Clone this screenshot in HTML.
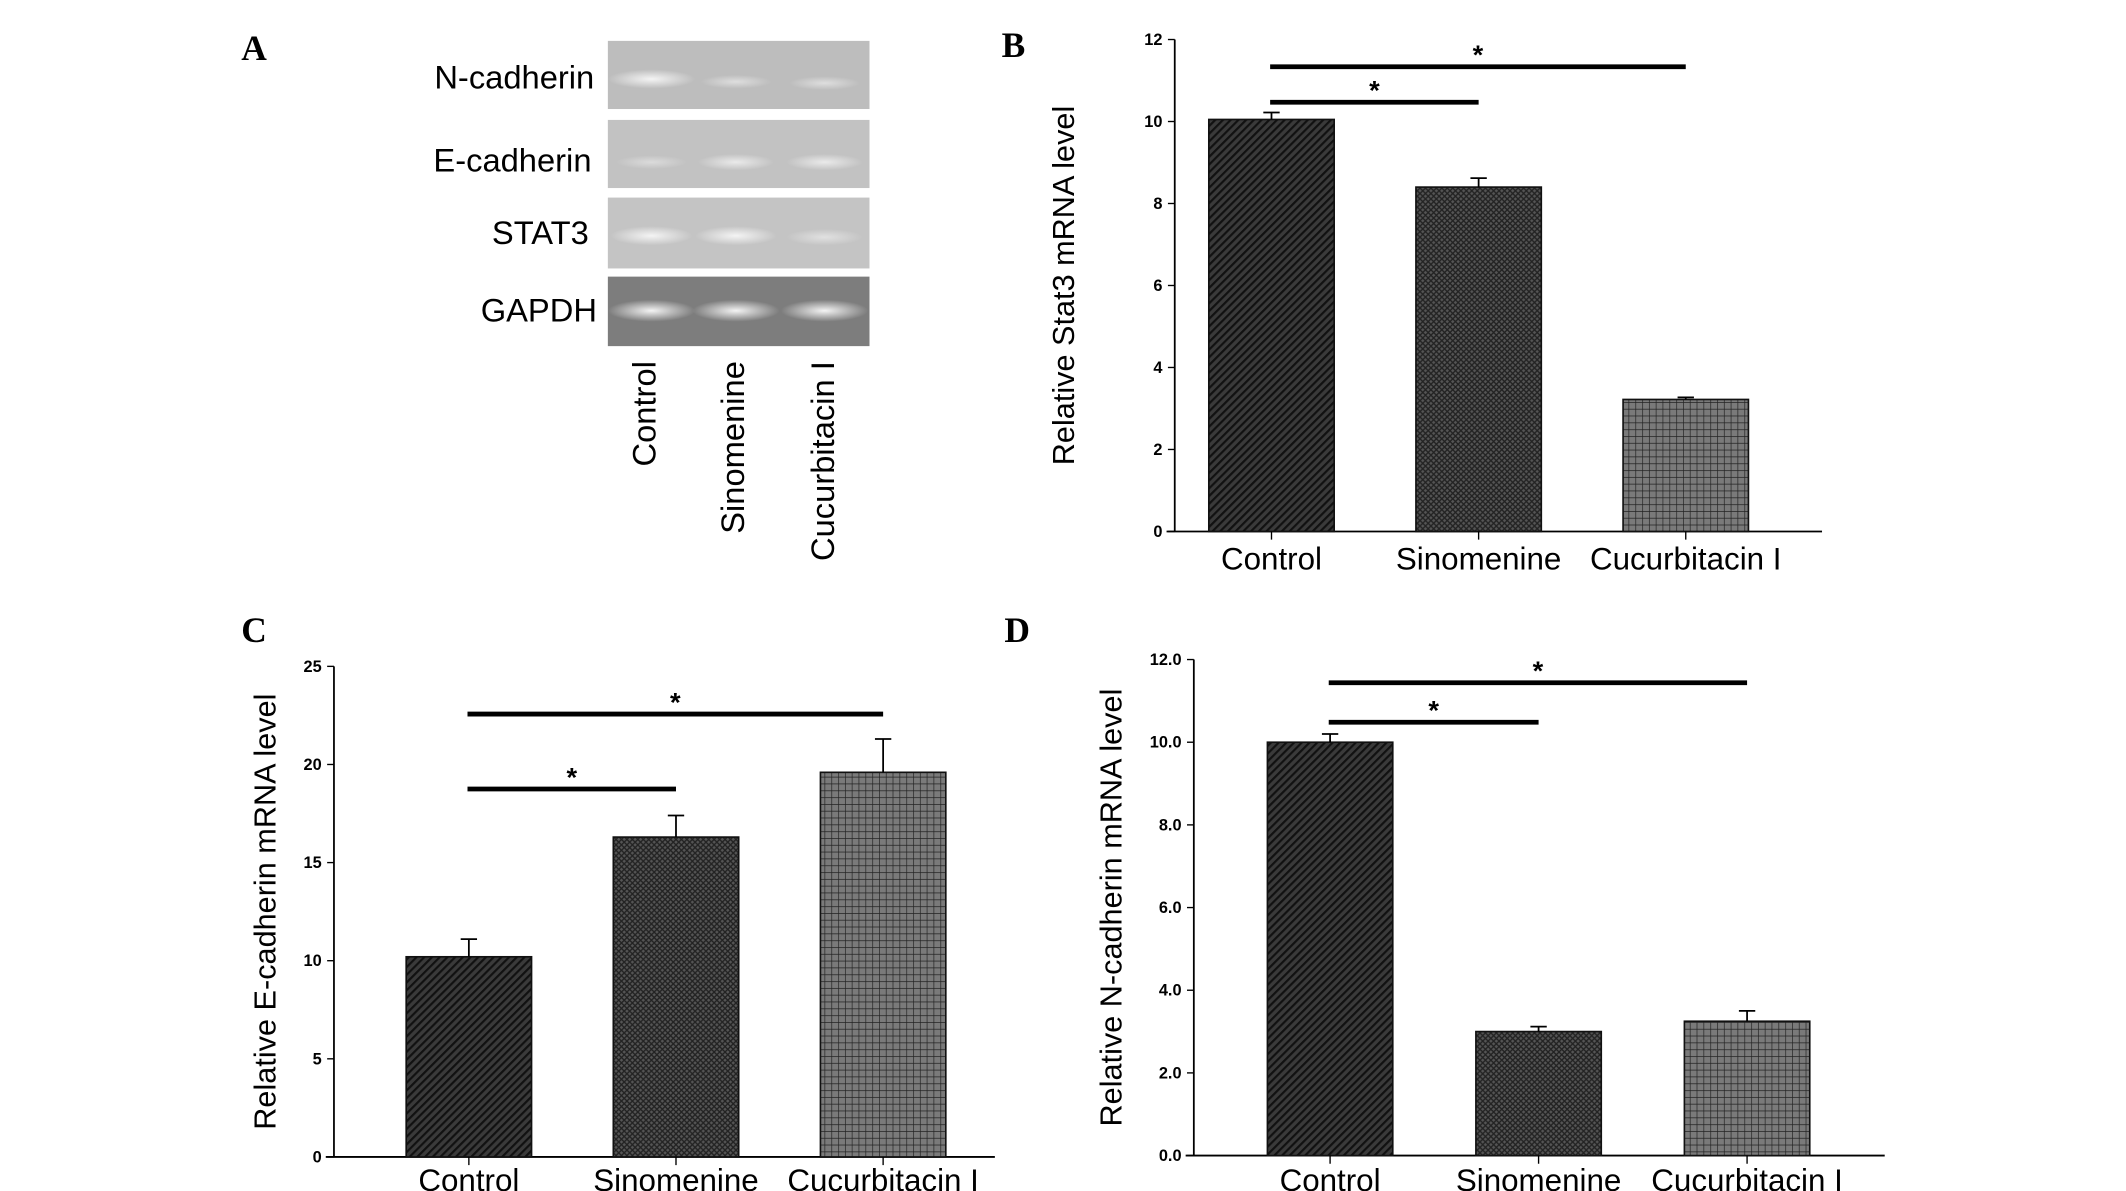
<!DOCTYPE html>
<html><head><meta charset="utf-8"><style>
html,body{margin:0;padding:0;background:#fff;}
svg{display:block;}
text{font-family:"Liberation Sans",sans-serif;}
.tick{font-size:12px;font-weight:bold;}
.cat{font-size:23px;}
.ttl{font-size:22.5px;}
.let{font-family:"Liberation Serif",serif;font-size:26px;font-weight:bold;}
.gel{font-size:24px;}
</style></head><body>
<svg id="fig" width="2126" height="1191" viewBox="0 0 1560 874" xmlns="http://www.w3.org/2000/svg">
<defs>
<pattern id="pDiag" width="4" height="4" patternUnits="userSpaceOnUse" patternTransform="rotate(45)"><rect width="4" height="4" fill="#3a3a3a"/><rect width="1.6" height="4" fill="#111"/></pattern>
<pattern id="pCross" width="4" height="4" patternUnits="userSpaceOnUse"><rect width="4" height="4" fill="#555"/><path d="M0 0L4 4M4 0L0 4" stroke="#222" stroke-width="1"/></pattern>
<pattern id="pGrid" width="5" height="5" patternUnits="userSpaceOnUse"><rect width="5" height="5" fill="#7a7a7a"/><path d="M0 0H5M0 0V5" stroke="#222" stroke-width="1"/></pattern>
<radialGradient id="band" cx="50%" cy="50%" r="50%"><stop offset="0" stop-color="#f4f4f4"/><stop offset="1" stop-color="#f4f4f4" stop-opacity="0"/></radialGradient>
</defs>
<g>
<text class="let" x="177" y="44">A</text>
<rect x="446" y="30" width="192" height="50" fill="#bdbdbd"/>
<rect x="446" y="88" width="192" height="50" fill="#c2c2c2"/>
<rect x="446" y="145" width="192" height="52" fill="#c4c4c4"/>
<rect x="446" y="203" width="192" height="51" fill="#7d7d7d"/>
<g fill="url(#band)">
<ellipse cx="478" cy="58" rx="32" ry="7"/><ellipse cx="540" cy="60" rx="26" ry="5" opacity=".6"/><ellipse cx="605" cy="61" rx="26" ry="5" opacity=".6"/>
<ellipse cx="478" cy="119" rx="26" ry="5" opacity=".5"/><ellipse cx="540" cy="119" rx="28" ry="6" opacity=".8"/><ellipse cx="605" cy="119" rx="28" ry="6" opacity=".8"/>
<ellipse cx="478" cy="173" rx="30" ry="7"/><ellipse cx="540" cy="173" rx="30" ry="7"/><ellipse cx="605" cy="174" rx="28" ry="6" opacity=".6"/>
<ellipse cx="478" cy="228" rx="32" ry="8"/><ellipse cx="540" cy="228" rx="32" ry="8"/><ellipse cx="605" cy="228" rx="32" ry="8"/>
</g>
<text class="gel" x="436" y="65" text-anchor="end">N-cadherin</text>
<text class="gel" x="434" y="126" text-anchor="end">E-cadherin</text>
<text class="gel" x="432" y="179" text-anchor="end">STAT3</text>
<text class="gel" x="438" y="236" text-anchor="end">GAPDH</text>
<text class="gel" transform="translate(481,265) rotate(-90)" text-anchor="end">Control</text>
<text class="gel" transform="translate(546,265) rotate(-90)" text-anchor="end">Sinomenine</text>
<text class="gel" transform="translate(612,265) rotate(-90)" text-anchor="end">Cucurbitacin I</text>
</g>
<g id="charts"></g>
</svg>
<script>
const categories = ["Control", "Sinomenine", "Cucurbitacin I"];
const stat3Values = [10.05, 8.4, 3.22];
const stat3Errors = [0.17, 0.22, 0.05];
const stat3Ticks = ["0", "2", "4", "6", "8", "10", "12"];
const ecadValues = [10.2, 16.3, 19.6];
const ecadErrors = [0.9, 1.1, 1.7];
const ecadTicks = ["0", "5", "10", "15", "20", "25"];
const ncadValues = [10.0, 3.0, 3.25];
const ncadErrors = [0.2, 0.12, 0.25];
const ncadTicks = ["0.0", "2.0", "4.0", "6.0", "8.0", "10.0", "12.0"];

const NS = "http://www.w3.org/2000/svg";
const fills = ["url(#pDiag)", "url(#pCross)", "url(#pGrid)"];
function mk(parent, tag, attrs) {
  const e = document.createElementNS(NS, tag);
  for (const k in attrs) e.setAttribute(k, attrs[k]);
  parent.appendChild(e);
  return e;
}
function chart(cfg, values, errors, ticks) {
  const g = mk(document.getElementById("charts"), "g", {});
  
  
  const ymax = parseFloat(ticks[ticks.length - 1]);
  const y = v => cfg.y0 - (v / ymax) * (cfg.y0 - cfg.yTop);
  const x = i => cfg.firstBar + i * cfg.step;
  const lt = mk(g, "text", {class: "let", x: cfg.letX, y: cfg.letY});
  lt.textContent = cfg.letter;
  
  
  const ya = mk(g, "line", {x1: cfg.ax, y1: cfg.yTop, x2: cfg.ax, y2: cfg.y0, stroke: "#000", "stroke-width": 1.3});
  
  
  const xa = mk(g, "line", {x1: cfg.ax - 6, y1: cfg.y0, x2: cfg.axEnd, y2: cfg.y0, stroke: "#000", "stroke-width": 1.3});
  
  
  ticks.forEach(t => {
    const yy = y(parseFloat(t));
    mk(g, "line", {x1: cfg.ax - 5, y1: yy, x2: cfg.ax, y2: yy, stroke: "#000", "stroke-width": 1});
    const tx = mk(g, "text", {class: "tick", x: cfg.ax - 9, y: yy + 4, "text-anchor": "end"});
    tx.textContent = t;
    
    
  });
  const tt = mk(g, "text", {class: "ttl", transform: `translate(${cfg.titleX},${(cfg.yTop + cfg.y0) / 2}) rotate(-90)`, "text-anchor": "middle"});
  tt.textContent = cfg.title;
  
  
  values.forEach((v, i) => {
    const bx = x(i), cx = bx + cfg.bw / 2;
    const r = mk(g, "rect", {x: bx, y: y(v), width: cfg.bw, height: cfg.y0 - y(v), fill: fills[i], stroke: "#111", "stroke-width": 1.2});
    
    
    const e = mk(g, "path", {d: `M${cx} ${y(v)}V${y(v + errors[i])}M${cx - 6} ${y(v + errors[i])}H${cx + 6}`, stroke: "#000", "stroke-width": 1.3, fill: "none"});
    
    
    mk(g, "line", {x1: cx, y1: cfg.y0, x2: cx, y2: cfg.y0 + 6, stroke: "#000", "stroke-width": 1});
    const c = mk(g, "text", {class: "cat", x: cx, y: cfg.y0 + cfg.catOff, "text-anchor": "middle"});
    c.textContent = categories[i];
    
    
  });
  cfg.sig.forEach(s => {
    const x1 = x(0) + cfg.bw / 2 - 1, x2 = x(s.to) + cfg.bw / 2;
    const l = mk(g, "line", {x1: x1, y1: s.y, x2: x2, y2: s.y, stroke: "#000", "stroke-width": 3.5});
    
    
    const st = mk(g, "text", {x: (x1 + x2) / 2, y: s.y - 2, "text-anchor": "middle", "font-size": 20, "font-weight": "bold"});
    st.textContent = "*";
    
    
  });
}
chart({name: "panel-b-stat3-chart", letter: "B", letX: 735, letY: 42, ax: 862, axEnd: 1337, yTop: 29, y0: 390, firstBar: 887, step: 152, bw: 92, titleX: 788, catOff: 28, title: "Relative Stat3 mRNA level", sig: [{y: 75, to: 1}, {y: 49, to: 2}]}, stat3Values, stat3Errors, stat3Ticks);
chart({name: "panel-c-ecadherin-chart", letter: "C", letX: 177, letY: 471, ax: 245, axEnd: 730, yTop: 489, y0: 849, firstBar: 298, step: 152, bw: 92, titleX: 202, catOff: 25, title: "Relative E-cadherin mRNA level", sig: [{y: 579, to: 1}, {y: 524, to: 2}]}, ecadValues, ecadErrors, ecadTicks);
chart({name: "panel-d-ncadherin-chart", letter: "D", letX: 737, letY: 471, ax: 876, axEnd: 1383, yTop: 484, y0: 848, firstBar: 930, step: 153, bw: 92, titleX: 823, catOff: 26, title: "Relative N-cadherin mRNA level", sig: [{y: 530, to: 1}, {y: 501, to: 2}]}, ncadValues, ncadErrors, ncadTicks);
</script>
</body></html>
